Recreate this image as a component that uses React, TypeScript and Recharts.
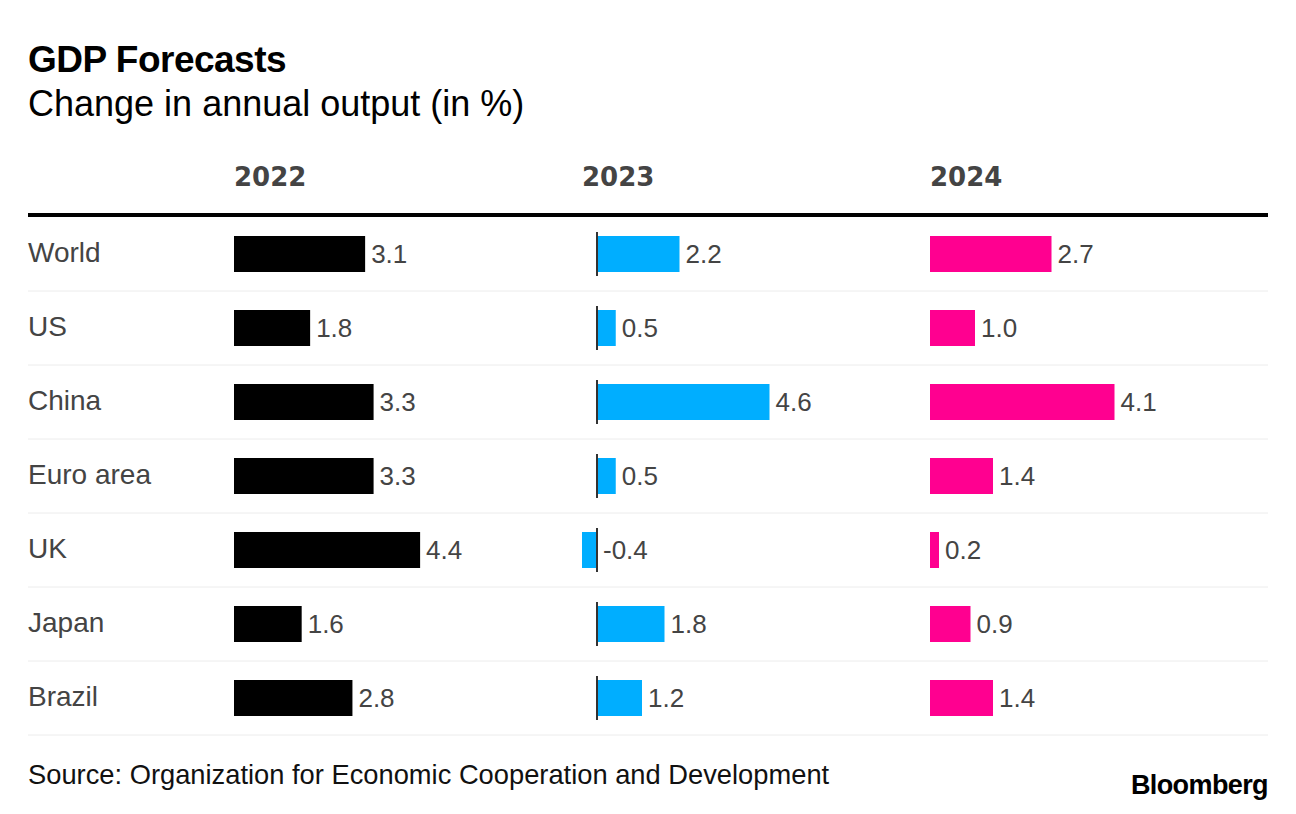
import React from "react";
import { BarChart, Bar, XAxis, YAxis, CartesianGrid, LabelList } from "recharts";

// OECD GDP forecasts, change in annual output (%)
const countries = ["World", "US", "China", "Euro area", "UK", "Japan", "Brazil"];
const gdp2022 = [3.1, 1.8, 3.3, 3.3, 4.4, 1.6, 2.8];
const gdp2023 = [2.2, 0.5, 4.6, 0.5, -0.4, 1.8, 1.2];
const gdp2024 = [2.7, 1.0, 4.1, 1.4, 0.2, 0.9, 1.4];
const years = ["2022", "2023", "2024"];

const data = countries.map((country, i) => ({
  country,
  y2022: gdp2022[i],
  y2023: gdp2023[i],
  y2024: gdp2024[i],
}));

const W = 1296;
const H = 814;
const PLOT_LEFT = 28;
const PLOT_RIGHT = 1268;
const PLOT_TOP = 217;
const PLOT_BOTTOM = 735;
const LABEL_AXIS_W = 1; // axis must have a width to draw its ticks

// each column shares the plot width; its own x axis places zero and sets the scale
const columns = [
  { key: "y2022", axisId: "x22", rowsId: "r22", zeroX: 234, pxPerUnit: 42.3, color: "#000000", headerX: 234 },
  { key: "y2023", axisId: "x23", rowsId: "r23", zeroX: 597, pxPerUnit: 37.5, color: "#00aeff", headerX: 582 },
  { key: "y2024", axisId: "x24", rowsId: "r24", zeroX: 930, pxPerUnit: 45, color: "#ff0090", headerX: 930 },
];

const domainFor = (zeroX: number, ppu: number): [number, number] => [
  -(zeroX - PLOT_LEFT) / ppu,
  (PLOT_RIGHT - zeroX) / ppu,
];

const renderCountryTick = (props: any) => (
  <text x={props.x} y={props.y} dy={8} textAnchor="start" fill="#444" fontSize={28}>
    {props.payload.value}
  </text>
);

const renderValue = (props: any) => {
  const vb = props.viewBox ?? props;
  const x = Number(vb.x);
  const w = Number(vb.width);
  const y = Number(vb.y);
  const h = Number(vb.height);
  const right = Math.max(x, x + w);
  return (
    <text x={right + 6} y={y + h / 2 + 9} fill="#444" fontSize={26}>
      {Number(props.value).toFixed(1)}
    </text>
  );
};

// 2023 bars carry a small zero tick
const ZeroTickBar = (props: any) => {
  const { x, y, width, height, fill, payload } = props;
  const left = Math.min(x, x + width);
  const right = Math.max(x, x + width);
  const zeroX = payload.y2023 < 0 ? right : left;
  return (
    <g>
      <rect x={left} y={y} width={right - left} height={height} fill={fill} />
      <line x1={zeroX} x2={zeroX} y1={y - 4} y2={y + height + 4} stroke="#333" strokeWidth={2} />
    </g>
  );
};

export default function App() {
  return (
    <div
      style={{
        position: "absolute",
        left: 0,
        top: 0,
        width: W,
        height: H,
        background: "#fff",
        fontFamily: '"Liberation Sans", Arial, sans-serif',
        overflow: "hidden",
      }}
    >
      <div style={{ position: "absolute", left: 0, top: 0 }}>
        <BarChart
          width={W}
          height={H}
          data={data}
          layout="vertical"
          margin={{
            top: PLOT_TOP,
            right: W - PLOT_RIGHT,
            bottom: H - PLOT_BOTTOM,
            left: PLOT_LEFT - LABEL_AXIS_W,
          }}
        >
          <CartesianGrid
            xAxisId="x22"
            yAxisId="r22"
            vertical={false}
            stroke="#ececec"
            horizontalCoordinatesGenerator={({ offset }: any) =>
              countries.map((_, i) => offset.top + ((i + 1) * offset.height) / countries.length)
            }
          />
          {columns.map((c) => (
            <XAxis
              key={c.axisId}
              xAxisId={c.axisId}
              type="number"
              domain={domainFor(c.zeroX, c.pxPerUnit)}
              allowDataOverflow
              hide
            />
          ))}
          <YAxis
            yAxisId="r22"
            type="category"
            dataKey="country"
            width={LABEL_AXIS_W}
            axisLine={false}
            tickLine={false}
            tickSize={0}
            tickMargin={0}
            interval={0}
            tick={renderCountryTick}
          />
          <YAxis yAxisId="r23" type="category" dataKey="country" hide />
          <YAxis yAxisId="r24" type="category" dataKey="country" hide />
          <Bar dataKey="y2022" xAxisId="x22" yAxisId="r22" fill={columns[0].color} barSize={36} isAnimationActive={false}>
            <LabelList dataKey="y2022" content={renderValue} />
          </Bar>
          <Bar
            dataKey="y2023"
            xAxisId="x23"
            yAxisId="r23"
            fill={columns[1].color}
            barSize={36}
            shape={<ZeroTickBar />}
            isAnimationActive={false}
          >
            <LabelList dataKey="y2023" content={renderValue} />
          </Bar>
          <Bar dataKey="y2024" xAxisId="x24" yAxisId="r24" fill={columns[2].color} barSize={36} isAnimationActive={false}>
            <LabelList dataKey="y2024" content={renderValue} />
          </Bar>
        </BarChart>
      </div>

      <div
        style={{
          position: "absolute",
          left: 28,
          top: 41,
          fontSize: 37,
          lineHeight: 1,
          fontWeight: 700,
          letterSpacing: -0.5,
          color: "#000",
          whiteSpace: "nowrap",
        }}
      >
        GDP Forecasts
      </div>
      <div
        style={{
          position: "absolute",
          left: 28,
          top: 86,
          fontSize: 36,
          lineHeight: 1,
          color: "#000",
          whiteSpace: "nowrap",
        }}
      >
        Change in annual output (in %)
      </div>

      {years.map((yr, i) => (
        <div
          key={yr}
          style={{
            position: "absolute",
            left: columns[i].headerX,
            top: 164,
            fontFamily: '"DejaVu Sans", sans-serif',
            fontWeight: 700,
            fontSize: 26,
            lineHeight: 1,
            color: "#444",
          }}
        >
          {yr}
        </div>
      ))}

      <div
        style={{ position: "absolute", left: PLOT_LEFT, top: 213, width: PLOT_RIGHT - PLOT_LEFT, height: 4, background: "#000" }}
      />

      <div
        style={{
          position: "absolute",
          left: 28,
          top: 761,
          fontSize: 27.3,
          lineHeight: 1,
          color: "#111",
          whiteSpace: "nowrap",
        }}
      >
        Source: Organization for Economic Cooperation and Development
      </div>
      <div
        style={{
          position: "absolute",
          right: 28,
          top: 772,
          fontSize: 27,
          lineHeight: 1,
          fontWeight: 700,
          letterSpacing: -0.6,
          color: "#000",
          whiteSpace: "nowrap",
        }}
      >
        Bloomberg
      </div>
    </div>
  );
}
